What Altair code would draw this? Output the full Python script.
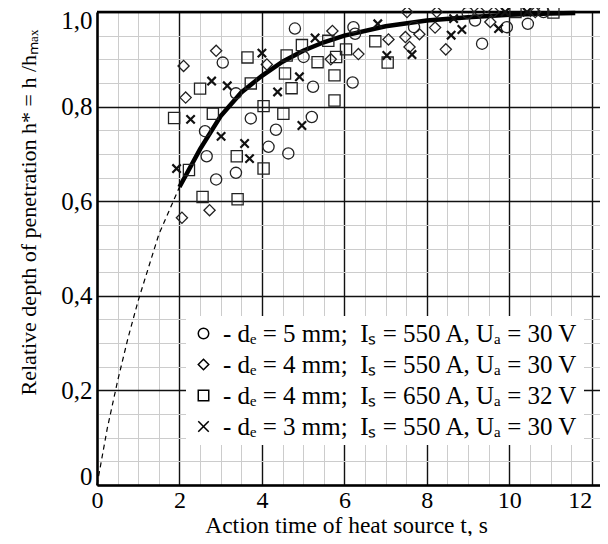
import altair as alt
import pandas as pd

# ---- data ----
circle_t = [2.62, 2.66, 2.89, 3.05, 3.37, 3.37, 3.73, 4.16, 4.34, 4.64, 4.80, 5.01, 5.21, 5.24,
            6.20, 6.22, 6.26, 7.69, 8.99, 9.17, 9.34, 9.94, 10.45, 10.83]
circle_h = [0.748, 0.695, 0.646, 0.893, 0.828, 0.660, 0.775, 0.715, 0.751, 0.701, 0.965, 0.905, 0.778, 0.842,
            0.851, 0.968, 0.954, 0.968, 0.998, 0.982, 0.933, 0.968, 0.975, 1.0]

diamond_t = [2.06, 2.10, 2.15, 2.73, 2.89, 4.12, 5.71, 5.67, 6.34, 7.07, 7.48, 7.52, 7.58, 7.82,
             8.20, 8.24, 8.46, 9.28, 9.54, 9.62, 10.63]
diamond_h = [0.565, 0.886, 0.819, 0.581, 0.918, 0.889, 0.960, 0.900, 0.911, 0.942, 0.947, 1.0, 0.926, 0.953,
             0.967, 1.0, 0.921, 1.0, 0.979, 1.0, 1.0]

square_t = [1.87, 2.23, 2.50, 2.56, 2.81, 3.39, 3.41, 3.65, 3.73, 4.04, 4.04, 4.52, 4.56, 4.60, 4.72,
            4.97, 5.35, 5.61, 5.76, 5.76, 5.80, 6.04, 6.75, 7.05, 10.15, 11.07]
square_h = [0.776, 0.666, 0.838, 0.609, 0.785, 0.695, 0.604, 0.904, 0.849, 0.801, 0.669, 0.785, 0.870, 0.908, 0.839,
            0.930, 0.894, 0.939, 0.866, 0.813, 0.905, 0.921, 0.938, 0.893, 1.0, 0.999]

cross_t = [1.93, 2.27, 2.78, 3.01, 3.16, 3.58, 3.70, 4.00, 4.38, 4.91, 4.97, 5.29, 6.81, 7.03, 7.64,
           8.59, 8.65, 8.85, 9.74, 9.90, 10.43]
cross_h = [0.669, 0.773, 0.854, 0.737, 0.844, 0.722, 0.690, 0.913, 0.831, 0.863, 0.760, 0.945, 0.975, 0.908, 0.910,
           0.951, 0.986, 0.963, 0.965, 1.0, 1.0]

curve_dash_t = [0, 0.25, 0.5, 0.75, 1.0, 1.25, 1.5, 1.75, 2.0]
curve_dash_h = [0, 0.12, 0.22, 0.31, 0.39, 0.46, 0.53, 0.58, 0.63]
curve_t = [2.0, 2.5, 3.0, 3.5, 4.0, 4.5, 5.0, 5.5, 6.0, 7.0, 8.0, 9.0, 10.0, 11.0, 11.6]
curve_h = [0.63, 0.71, 0.78, 0.83, 0.865, 0.895, 0.918, 0.936, 0.95, 0.97, 0.982, 0.989, 0.994, 0.997, 0.998]

top_border = [1.0]

series_labels = [
    "- dₑ = 5 mm; \u00a0Iₛ = 550 A, Uₐ = 30 V",
    "- dₑ = 4 mm; \u00a0Iₛ = 550 A, Uₐ = 30 V",
    "- dₑ = 4 mm; \u00a0Iₛ = 650 A, Uₐ = 32 V",
    "- dₑ = 3 mm; \u00a0Iₛ = 550 A, Uₐ = 30 V",
]
CROSS = "M-1,-1L1,1M-1,1L1,-1"
shapes = ["circle", "diamond", "square", CROSS]

x_values = [i * 0.5 for i in range(25)]
y_values = [round(i * 0.05, 2) for i in range(21)]

# ---- tables ----
rows = []
for lab, ts, hs in zip(series_labels, [circle_t, diamond_t, square_t, cross_t],
                       [circle_h, diamond_h, square_h, cross_h]):
    for t, h in zip(ts, hs):
        rows.append({"t": t, "h": h, "series": lab})
df_pts = pd.DataFrame(rows)
df_dash = pd.DataFrame({"t": curve_dash_t, "h": curve_dash_h})
df_curve = pd.DataFrame({"t": curve_t, "h": curve_h})
df_top = pd.DataFrame({"h": top_border})

FONT = "Liberation Serif"
xscale = alt.Scale(domain=[0, 12.2], nice=False, zero=False)
yscale = alt.Scale(domain=[0, 1], nice=False)

major_x = "datum.value % 2 === 0"
major_y = "abs(datum.value * 5 - round(datum.value * 5)) < 0.000001"

xaxis = alt.Axis(
    values=x_values, grid=True, ticks=False, labelOverlap=False,
    gridColor={"condition": {"test": major_x, "value": "#111111"}, "value": "#cccccc"},
    gridWidth={"condition": {"test": major_x, "value": 1.4}, "value": 1},
    labelExpr="datum.value % 2 === 0 ? format(datum.value, 'd') : ''",
    labelAlign={"condition": {"test": "datum.value === 12", "value": "right"}, "value": "center"},
    domainColor="black", domainWidth=2.5,
    labelFont=FONT, labelFontSize=24, labelColor="black", labelPadding=3,
    title="Action time of heat source t, s",
    titleFont=FONT, titleFontSize=23.5, titleFontWeight="normal", titleColor="black",
    titleX=249, titleY=47, titleBaseline="alphabetic", titleAlign="center",
)
yaxis = alt.Axis(
    values=y_values, grid=True, ticks=False, labelOverlap=False,
    gridColor={"condition": {"test": major_y, "value": "#111111"}, "value": "#cccccc"},
    gridWidth={"condition": {"test": major_y, "value": 1.4}, "value": 1},
    labelExpr=("abs(datum.value * 5 - round(datum.value * 5)) < 0.000001 ? "
               "(datum.value == 0 ? '0' : replace(format(datum.value, '.1f'), '.', ',')) : ''"),
    labelFlush=True, labelFlushOffset=4,
    domainColor="black", domainWidth=2.5,
    labelFont=FONT, labelFontSize=25, labelColor="black", labelPadding=5,
    title="Relative depth of penetration h* = h /hₘₐₓ",
    titleFont=FONT, titleFontSize=22, titleFontWeight="normal", titleColor="black",
    titleX=-69, titleY=200, titleBaseline="middle", titleAlign="center", titleAngle=270,
)

X = alt.X("t:Q", scale=xscale, axis=xaxis)
Y = alt.Y("h:Q", scale=yscale, axis=yaxis)

top = alt.Chart(df_top).mark_rule(color="black", strokeWidth=2.4).encode(y=Y)
dash = alt.Chart(df_dash).mark_line(color="black", strokeWidth=1.2, strokeDash=[5, 4]).encode(x=X, y=Y)
solid = alt.Chart(df_curve).mark_line(color="black", strokeWidth=4.5).encode(x=X, y=Y)

pts = alt.Chart(df_pts).transform_filter(
    alt.datum.series != series_labels[3]
).mark_point(filled=False, color="#222222", opacity=1, size=125, strokeWidth=1.3).encode(
    x=X, y=Y,
    shape=alt.Shape("series:N", scale=alt.Scale(domain=series_labels, range=shapes),
                    legend=alt.Legend(
                        title=None, orient="none", legendX=89, legendY=304,
                        fillColor="white", padding=5, rowPadding=5,
                        labelFont=FONT, labelFontSize=25, labelColor="black", labelLimit=600,
                        labelOffset=7, symbolSize=110, symbolStrokeWidth=1.5,
                        symbolStrokeColor="black", symbolFillColor="transparent")),
)
crosses = alt.Chart(df_pts).transform_filter(
    alt.datum.series == series_labels[3]
).mark_point(filled=False, color="#111111", opacity=1, shape=CROSS, size=70, strokeWidth=2.2).encode(
    x=X, y=Y,
)

chart = alt.layer(top, dash, solid, pts, crosses).properties(
    width=503, height=473,
    autosize=alt.AutoSizeParams(type="none"),
    padding={"left": 89, "top": 4, "right": 0, "bottom": 51},
    background="white",
).configure_view(stroke=None).configure_legend(
    labelFont=FONT, labelFontSize=25, labelColor="black"
).configure(font=FONT)

chart.save("out.html", embed_options={"renderer": "svg", "actions": False})
